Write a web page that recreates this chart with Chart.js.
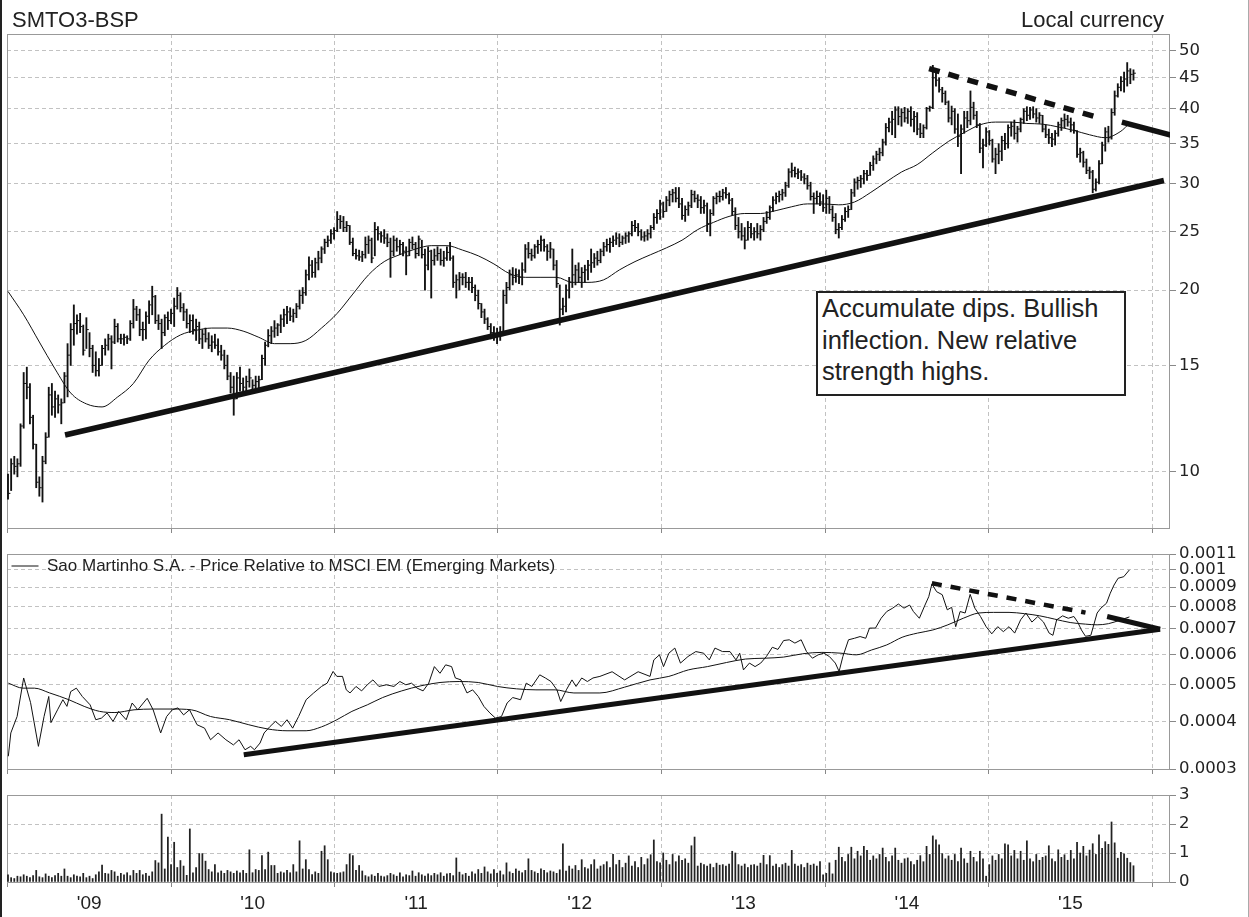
<!DOCTYPE html>
<html>
<head>
<meta charset="utf-8">
<script src="https://cdn.jsdelivr.net/npm/chart.js@4.4.1/dist/chart.umd.min.js"></script>
<style>
  body { margin: 0; background: #fff; }
  #page { position: relative; width: 1249px; height: 917px; overflow: hidden; background: #fff;
          font-family: "Liberation Sans", Arial, sans-serif; color: #222; }
  .pane { position: absolute; left: 0; }
  #edgeL { position: absolute; left: 0; top: 0; width: 2px; height: 917px; background: #222; }
  #edgeR { position: absolute; right: 0; top: 0; width: 1px; height: 917px; background: #aaa; }
  #ttl { position: absolute; left: 12px; top: 9px; font-size: 22px; line-height: 22px; }
  #cur { position: absolute; right: 85px; top: 9px; font-size: 22px; line-height: 22px; }
  #note { position: absolute; left: 816px; top: 291px; width: 302px; height: 101px; padding-left: 4px;
          border: 2px solid #222; background: #fff; font-size: 25.5px; line-height: 31.7px; }
</style>
</head>
<body>
<div id="page">
  <canvas id="cPrice" class="pane" style="top:0" width="1249" height="545"></canvas>
  <canvas id="cRel" class="pane" style="top:545px" width="1249" height="235"></canvas>
  <canvas id="cVol" class="pane" style="top:780px" width="1249" height="137"></canvas>
  <div id="ttl">SMTO3-BSP</div>
  <div id="cur">Local currency</div>
  <div id="note">Accumulate dips. Bullish<br>inflection. New relative<br>strength highs.</div>
  <div id="edgeL"></div>
  <div id="edgeR"></div>
</div>
<script>
// weekly bars, first week ending 2009-01-02
const firstWeek = Date.UTC(2009, 0, 2);
const years = [2009, 2010, 2011, 2012, 2013, 2014, 2015, 2016];
const yearLabels = ["'09", "'10", "'11", "'12", "'13", "'14", "'15", ""];

const highs = [
  9.9,10.5,10.6,10.5,12.0,14.6,14.9,14.0,12.4,11.1,
  9.8,10.6,11.6,13.8,14.0,13.6,13.4,13.2,14.6,16.3,
  17.6,18.9,18.2,18.3,17.5,18.0,17.0,16.2,15.8,15.4,
  16.2,16.6,16.9,16.8,17.9,17.6,16.9,16.9,16.8,17.8,
  19.3,18.8,18.6,17.7,18.4,19.2,20.3,19.6,18.2,17.9,
  18.2,18.4,18.6,19.4,20.2,19.8,19.0,18.6,18.2,18.2,
  17.9,17.7,17.2,17.3,17.0,16.8,16.9,16.6,16.2,15.9,
  15.6,14.6,14.4,14.6,14.9,14.3,14.4,14.8,14.2,14.4,
  14.4,15.6,16.4,17.2,17.4,17.8,17.6,18.2,18.6,18.8,
  18.7,18.6,19.0,20.0,20.2,21.6,22.7,22.4,22.6,23.2,
  23.6,24.3,24.6,25.2,25.4,27.0,26.6,26.5,26.0,25.6,
  24.4,23.4,23.3,23.2,24.5,24.6,24.4,25.9,25.5,25.0,
  25.2,24.8,24.4,24.6,24.4,24.2,24.0,23.6,24.3,24.5,
  24.0,24.6,24.2,23.4,23.6,23.3,23.4,23.6,23.4,23.2,
  23.6,24.0,22.8,21.2,21.4,21.3,21.4,21.0,21.0,20.4,
  20.0,19.0,18.6,18.0,17.6,17.4,17.3,17.4,20.0,20.6,
  21.6,21.8,21.7,21.6,22.2,23.8,24.0,23.4,23.8,24.2,
  24.6,24.3,23.8,24.0,23.4,22.4,20.4,19.4,20.4,21.0,
  23.4,22.0,22.2,21.8,22.0,22.4,23.4,23.0,23.2,23.4,
  24.0,24.3,24.4,24.6,24.9,24.8,24.6,24.9,25.0,26.0,
  26.1,25.8,25.2,25.0,25.2,25.6,26.8,27.2,28.2,28.0,
  28.6,29.2,29.4,29.6,29.6,28.4,27.6,28.0,29.3,29.2,
  28.8,28.6,28.2,27.9,27.2,28.6,29.0,29.2,29.4,29.6,
  29.0,28.4,27.4,26.4,25.8,25.4,26.0,25.8,25.4,25.8,
  25.6,26.4,27.0,27.6,28.6,29.0,29.2,29.4,30.2,31.8,
  32.5,32.0,31.8,31.6,31.2,31.0,30.2,29.0,29.2,29.0,
  28.8,29.3,28.6,27.6,26.8,25.8,26.6,27.4,27.6,29.4,
  30.6,30.8,31.0,31.6,31.6,32.6,33.4,34.0,34.4,35.6,
  37.8,38.6,39.6,40.3,40.3,40.0,40.2,40.0,40.3,39.6,
  39.4,37.8,37.6,40.2,40.4,47.2,46.4,45.0,43.4,42.8,
  41.2,40.4,40.0,39.2,37.6,39.6,39.6,42.8,41.0,39.6,
  37.8,35.6,37.2,36.8,35.6,34.4,35.0,36.0,36.4,37.6,
  38.0,38.3,37.4,38.6,40.0,40.3,40.2,40.3,40.0,39.4,
  39.0,37.6,37.0,36.4,36.8,38.0,38.6,39.2,39.0,38.6,
  38.0,36.8,34.4,34.0,33.0,32.0,31.6,30.6,32.8,35.2,
  37.2,37.4,40.0,42.8,44.0,45.2,46.0,47.7,46.6,46.4
];
const lows = [
  9.0,9.3,9.9,9.8,10.2,11.8,13.2,12.0,10.9,9.4,
  9.1,8.9,10.3,11.4,12.4,12.3,12.5,12.0,13.0,13.3,
  15.0,16.2,16.9,17.0,15.6,16.0,15.5,14.6,14.4,14.4,
  15.0,15.6,15.9,14.8,16.3,16.4,16.3,16.2,16.3,16.5,
  17.3,17.8,16.8,16.5,16.6,17.6,18.2,17.6,17.2,16.0,
  16.8,17.2,17.6,17.4,18.6,18.4,17.8,17.3,17.0,16.9,
  16.5,16.3,16.0,16.4,16.0,15.8,16.0,15.6,15.3,14.8,
  14.2,13.5,12.4,13.2,13.6,13.5,13.6,13.8,13.6,13.6,
  13.7,14.2,15.0,16.1,16.3,16.7,16.8,17.0,17.4,17.6,
  17.8,17.7,18.0,18.6,19.0,19.6,20.8,21.0,21.0,21.6,
  22.2,23.0,23.6,23.9,24.3,25.0,25.3,25.0,25.0,23.8,
  22.8,22.5,22.4,22.3,22.6,23.0,22.2,22.8,24.2,24.0,
  23.9,23.6,21.0,22.8,23.2,22.9,22.8,21.2,22.8,23.4,
  22.6,22.8,22.6,20.0,21.6,19.4,22.0,22.4,22.0,21.9,
  22.4,22.4,20.2,19.4,20.0,20.4,20.2,20.0,19.8,19.2,
  18.6,18.0,17.6,17.2,16.6,16.5,16.3,16.5,16.8,19.0,
  20.0,20.4,20.6,20.5,20.4,21.4,22.6,22.4,22.6,23.0,
  23.2,23.2,22.4,22.6,21.6,20.2,17.5,18.2,18.4,19.4,
  20.2,20.4,20.6,20.2,20.6,20.8,21.4,21.8,22.0,22.2,
  22.8,23.2,23.1,23.6,23.8,23.6,23.8,23.9,24.0,24.6,
  25.0,24.6,24.2,24.1,24.2,24.4,25.2,25.8,26.2,26.4,
  27.0,27.6,28.0,28.0,27.4,26.2,26.0,26.6,27.4,28.0,
  27.4,26.8,26.8,25.0,24.6,26.6,27.8,28.0,28.2,28.4,
  27.8,26.6,25.2,24.4,24.2,23.4,24.2,24.4,24.2,24.4,
  24.2,25.0,25.8,26.2,27.0,27.8,28.0,28.2,28.6,29.6,
  30.8,30.8,30.6,30.4,30.0,29.4,28.2,26.8,27.8,27.6,
  27.0,26.8,26.8,26.0,24.8,24.4,25.2,26.0,26.4,27.2,
  28.6,29.4,29.6,30.0,30.4,31.0,31.6,32.4,32.8,33.4,
  34.8,36.6,36.2,35.8,37.6,37.4,38.0,37.8,37.4,36.6,
  36.2,35.8,35.8,37.0,39.6,40.0,43.6,42.6,41.0,40.6,
  38.0,37.6,36.4,34.6,31.2,36.4,37.2,37.6,38.4,37.2,
  33.8,31.9,34.6,34.8,32.6,31.2,32.4,32.8,34.2,34.4,
  36.0,35.6,35.2,36.6,37.8,38.2,38.4,38.6,38.0,37.8,
  36.6,35.8,35.0,34.6,34.8,36.0,36.8,37.2,37.4,36.6,
  36.4,33.2,32.6,32.0,31.2,30.6,29.0,29.2,30.0,32.4,
  34.0,35.2,35.6,39.0,41.8,42.8,42.6,43.6,44.0,44.6
];
const closes = [
  9.2,10.3,10.2,10.3,11.9,14.0,13.8,12.3,11.1,9.6,
  9.4,10.4,11.4,13.4,12.8,13.2,12.9,13.0,14.4,15.6,
  17.2,17.6,17.8,17.4,15.9,17.2,16.0,15.0,14.7,15.0,
  16.0,16.2,16.6,16.4,17.4,16.6,16.6,16.7,16.6,17.6,
  18.6,18.2,17.2,17.2,18.1,18.9,19.5,17.8,17.6,17.0,
  18.0,17.8,18.3,18.8,19.6,18.7,18.4,17.6,17.8,17.2,
  17.4,16.6,16.9,16.6,16.2,16.4,16.2,15.8,15.6,15.0,
  14.4,13.8,13.2,14.3,14.0,13.8,14.1,14.3,13.9,14.1,
  14.2,15.4,16.2,16.8,17.1,17.3,17.5,17.9,18.2,18.4,
  18.1,18.3,18.8,19.6,19.8,21.2,22.0,21.4,22.2,22.6,
  23.4,24.0,24.2,24.8,25.1,26.2,26.0,25.4,25.6,24.0,
  23.0,22.8,22.7,22.9,23.8,24.2,22.6,25.2,24.8,24.6,
  24.4,24.0,23.2,24.2,23.6,23.8,23.2,22.8,24.0,23.8,
  23.0,24.3,22.9,22.0,23.2,22.4,22.8,23.0,22.4,22.6,
  23.1,22.6,20.6,20.8,21.0,21.0,20.6,20.6,20.2,19.6,
  19.0,18.4,17.9,17.4,17.0,16.9,17.0,16.8,19.6,20.2,
  21.2,21.0,21.2,21.0,21.6,23.4,23.0,22.8,23.6,23.8,
  24.2,23.6,23.2,23.4,22.0,20.5,18.6,18.8,20.0,20.6,
  21.2,21.6,21.0,21.4,21.6,22.0,22.2,22.6,22.4,23.2,
  23.6,23.8,24.0,24.2,24.4,24.0,24.4,24.6,24.8,25.6,
  25.4,25.0,24.5,24.6,24.8,25.4,26.4,26.8,27.8,27.0,
  28.2,28.8,29.0,28.4,27.8,26.6,27.2,27.6,28.8,28.4,
  28.2,27.4,27.6,25.8,26.8,28.4,28.6,28.6,29.0,28.8,
  28.2,27.0,25.6,25.0,24.6,24.2,25.4,24.8,25.0,24.8,
  25.2,26.0,26.4,27.4,28.2,28.6,28.8,29.0,29.8,31.4,
  31.6,31.2,31.4,30.8,30.6,29.8,28.6,28.4,28.6,28.0,
  27.4,28.4,27.2,26.4,25.2,25.4,26.2,27.0,27.2,29.0,
  30.2,30.4,30.6,31.2,31.0,32.2,33.0,33.6,33.8,35.2,
  37.2,38.0,38.4,39.8,38.8,39.4,38.6,39.6,38.4,38.8,
  37.0,36.4,37.2,40.0,40.2,45.0,44.6,43.0,42.4,41.0,
  38.6,39.6,37.0,36.0,37.0,38.6,38.2,40.2,39.0,37.6,
  34.4,34.8,36.6,35.4,33.0,33.6,34.0,35.4,35.0,37.2,
  37.4,36.4,37.0,38.4,39.6,39.0,39.8,39.2,38.6,39.0,
  37.0,36.2,35.8,35.6,36.4,37.6,38.2,38.4,38.0,37.6,
  36.8,33.6,33.8,32.6,31.6,31.4,29.4,30.2,32.4,34.8,
  36.6,35.8,39.4,42.0,43.4,44.4,44.8,46.2,45.6,45.8
];

// moving average of the price, read every 5 weeks
const maWeeks = [0,5,10,15,20,25,30,35,40,45,50,55,60,65,70,75,80,85,90,95,
  100,105,110,115,120,125,130,135,140,145,150,155,160,165,170,175,180,185,190,195,
  200,205,210,215,220,225,230,235,240,245,250,255,260,265,270,275,280,285,290,295,
  300,305,310,315,320,325,330,335,340,345,350,355,357];
const maPrices = [19.9,18.2,16.4,14.8,13.5,12.95,12.8,13.3,14.0,15.3,16.2,16.85,17.15,17.3,17.3,17.1,16.7,16.3,16.3,16.5,
  17.3,18.3,19.7,21.2,22.3,22.9,23.4,23.7,23.7,23.3,22.8,22.1,21.3,21.0,21.0,21.0,20.6,20.6,20.8,21.6,
  22.3,22.9,23.5,24.2,25.2,25.9,26.5,26.8,26.8,27.1,27.5,27.8,27.8,27.7,28.0,29.0,30.2,31.4,32.3,33.8,
  35.3,36.5,37.6,38.0,38.0,37.8,37.7,37.3,36.8,36.2,35.8,36.7,37.5];

// price trend lines (week, price)
const supWeeks = [18.2, 368.7], supPrices = [11.5, 30.4];
const resWeeks = [293.8, 347.4], resPrices = [46.6, 38.7];
const brkWeeks = [355.3, 371.3], brkPrices = [38.0, 36.1];

// price relative to MSCI EM
const relWeeks = [0.1,0.9,2.9,5.0,7.2,9.7,11.5,13.0,13.7,15.8,17.5,18.8,20.0,21.8,23.7,26.2,28.0,29.8,31.6,33.5,
  35.3,37.7,39.6,41.4,44.4,46.3,48.7,50.6,52.4,54.2,56.0,57.9,60.3,62.7,64.6,67.0,69.5,71.9,73.7,75.6,
  77.4,78.6,80.4,81.7,83.6,85.3,87.2,89.0,90.8,92.7,95.1,97.5,100.0,101.8,103.7,104.9,106.7,107.9,109.1,111.0,
  112.8,114.6,116.4,118.3,120.7,123.1,125.0,126.9,128.7,130.5,132.4,134.2,136.0,137.8,139.6,141.5,142.7,144.5,146.4,148.2,
  150.0,151.8,153.7,155.5,157.4,159.2,161.0,163.5,165.3,167.1,169.6,171.4,173.2,175.1,176.3,178.1,179.9,181.2,183.0,184.8,
  186.6,188.8,192.7,196.7,201.0,204.8,206.0,207.8,209.1,210.8,212.7,214.5,216.9,219.4,221.9,223.7,225.5,227.9,230.3,232.2,
  233.4,234.6,236.5,238.3,240.1,241.9,243.8,245.6,247.4,249.2,251.0,253.0,254.7,256.6,258.4,260.2,262.0,263.9,265.1,266.3,
  268.1,270.0,271.8,273.6,274.8,276.7,278.5,280.3,282.2,284.0,285.8,287.6,288.8,290.7,292.5,293.7,294.7,296.2,298.0,299.6,
  301.0,302.3,303.7,305.3,306.9,308.4,310.2,312.0,313.8,315.7,317.5,319.3,321.1,323.0,324.7,326.6,328.5,330.3,332.1,333.3,
  334.5,336.4,338.2,340.0,341.2,342.4,343.7,345.4,347.4,348.6,350.4,351.6,352.8,354.1,355.9,357.7];
const relValues = [.000324,.000373,.000412,.000520,.000448,.000344,.000412,.000465,.000397,.000429,.000456,.000438,.000479,.000489,.000465,.000442,.000404,.000408,.000421,.000400,
  .000425,.000404,.000447,.000429,.000460,.000429,.000373,.000412,.000429,.000434,.000416,.000429,.000392,.000384,.000358,.000373,.000358,.000347,.000358,.000337,
  .000344,.000337,.000351,.000373,.000388,.000400,.000388,.000404,.000384,.000412,.000456,.000475,.000494,.000504,.000541,.000525,.000525,.000484,.000475,.000494,
  .000481,.000499,.000514,.000494,.000499,.000494,.000509,.000499,.000504,.000489,.000481,.000504,.000557,.000535,.000563,.000557,.000520,.000514,.000475,.000484,
  .000465,.000438,.000421,.000408,.000412,.000447,.000462,.000456,.000504,.000494,.000530,.000520,.000509,.000484,.000451,.000484,.000514,.000494,.000520,.000509,
  .000520,.000525,.000540,.000514,.000540,.000525,.000580,.000598,.000557,.000604,.000623,.000569,.000592,.000610,.000604,.000580,.000623,.000610,.000610,.000580,
  .000604,.000546,.000569,.000557,.000569,.000592,.000626,.000618,.000652,.000655,.000642,.000655,.000610,.000586,.000598,.000604,.000592,.000569,.000541,.000592,
  .000655,.000661,.000668,.000661,.000703,.000703,.000746,.000777,.000793,.000813,.000793,.000808,.000777,.000746,.000808,.000850,.000918,.000876,.000860,.000785,
  .000797,.000709,.000777,.000770,.000862,.000793,.000754,.000709,.000679,.000709,.000688,.000709,.000682,.000739,.000770,.000729,.000754,.000729,.000682,.000673,
  .000739,.000757,.000746,.000754,.000729,.000695,.000669,.000673,.000770,.000793,.000817,.000868,.000912,.000950,.000959,.000999];
const relMaWeeks = [0.1,4.8,8.4,13.3,19.4,24.3,29.2,34.1,40.2,46.3,52.4,58.5,64.6,70.7,76.8,82.9,89.0,95.1,100.0,104.9,
  109.7,114.6,119.5,125.6,131.7,137.8,143.9,150.0,156.1,162.2,168.4,174.5,180.5,188.8,196.7,204.8,210.8,217.0,223.1,229.2,
  235.2,241.3,247.4,253.5,259.6,265.7,270.6,275.5,280.3,285.2,290.1,295.0,299.8,304.7,309.6,314.4,319.3,324.2,329.1,333.9,
  338.8,343.7,347.4,351.0,354.6,357.7];
const relMaValues = [.000504,.000489,.000489,.000475,.000456,.000438,.000425,.000422,.000429,.000431,.000431,.000429,.000412,.000404,.000392,.000382,.000378,.000378,.000387,.000404,
  .000425,.000442,.000462,.000481,.000496,.000506,.000509,.000506,.000494,.000487,.000484,.000484,.000475,.000475,.000492,.000514,.000525,.000546,.000557,.000571,
  .000583,.000586,.000590,.000602,.000607,.000604,.000598,.000616,.000635,.000665,.000682,.000695,.000717,.000746,.000770,.000773,.000773,.000767,.000757,.000742,
  .000727,.000720,.000717,.000722,.000737,.000752];
const relSupWeeks = [75.2, 367.5], relSupValues = [0.000327, 0.000698];
const relResWeeks = [294.7, 343.7], relResValues = [0.000922, 0.000772];
const relBrkWeeks = [350.6, 367.5], relBrkValues = [0.000754, 0.000698];

// weekly volume (millions)
const volumes = [
  0.25,0.15,0.12,0.2,0.18,0.25,0.2,0.15,0.22,0.4,0.18,0.15,0.28,0.2,0.15,0.22,0.3,0.2,0.45,0.2,
  0.15,0.25,0.2,0.18,0.3,0.15,0.2,0.12,0.25,0.35,0.58,0.3,0.28,0.4,0.35,0.2,0.3,0.25,0.32,0.22,
  0.4,0.3,0.4,0.25,0.3,0.2,0.35,0.74,0.66,2.34,0.45,1.55,0.6,1.37,0.5,0.74,0.55,0.23,1.83,0.32,
  0.5,0.98,0.98,0.72,0.43,0.35,0.6,0.32,0.38,0.3,0.4,0.35,0.3,0.38,0.32,0.4,0.3,1.11,0.32,0.43,
  0.4,0.91,0.43,1.03,0.57,0.57,0.3,0.35,0.32,0.4,0.32,0.6,0.35,1.42,0.45,0.77,0.43,0.26,0.35,0.3,
  1.06,1.25,0.77,0.35,0.32,0.3,0.32,0.35,0.6,0.97,0.91,0.4,0.57,0.38,0.22,0.18,0.25,0.2,0.3,0.2,
  0.18,0.22,0.3,0.25,0.2,0.32,0.18,0.25,0.22,0.38,0.2,0.32,0.25,0.2,0.28,0.22,0.3,0.25,0.32,0.2,
  0.28,0.3,0.22,0.83,0.34,0.25,0.3,0.2,0.35,0.28,0.43,0.3,0.52,0.35,0.28,0.43,0.3,0.38,0.25,0.66,
  0.35,0.3,0.45,0.38,0.32,0.4,0.8,0.4,0.35,0.3,0.45,0.4,0.32,0.38,0.35,0.3,0.42,1.32,0.38,0.55,
  0.45,0.57,0.4,0.77,0.5,0.45,0.6,0.77,0.45,0.55,0.6,0.7,0.5,0.95,0.6,0.75,0.5,0.65,0.9,0.55,
  0.7,0.5,0.85,0.6,0.8,0.94,1.45,0.7,0.66,1.0,0.75,0.6,0.95,0.7,0.9,0.75,0.8,0.65,1.25,1.55,
  0.55,0.65,0.6,0.55,0.62,0.5,0.65,0.58,0.6,0.55,0.62,1.06,1.0,0.6,0.55,0.62,0.5,0.58,0.6,0.55,
  0.65,0.92,0.6,0.91,0.55,0.62,0.5,0.6,0.65,0.55,1.09,0.62,0.55,0.6,0.5,0.65,0.58,0.62,0.55,0.7,
  0.25,0.3,0.66,0.28,0.75,1.2,0.85,0.7,0.95,1.2,0.8,1.06,0.9,1.23,1.09,0.75,0.9,0.8,0.95,1.17,
  0.85,0.7,0.9,1.17,0.75,0.65,0.8,0.83,0.7,0.6,0.75,0.91,0.7,1.23,0.95,1.59,1.45,1.28,0.98,0.8,
  0.9,0.75,0.95,0.7,1.17,0.8,0.65,1.06,0.85,0.7,1.06,0.8,0.2,0.6,0.9,0.75,0.95,0.8,1.32,1.28,
  0.9,1.09,0.8,1.06,0.75,1.42,0.8,0.7,0.95,0.75,0.85,0.9,1.25,0.8,0.7,1.11,0.85,0.94,0.75,1.09,
  0.8,1.37,1.0,1.23,0.9,1.1,1.32,0.95,1.63,1.16,1.39,1.3,2.07,1.35,0.82,1.02,0.97,0.82,0.67,0.56
];

const priceTicks = [10, 15, 20, 25, 30, 35, 40, 45, 50];
const relTicks = [0.0003, 0.0004, 0.0005, 0.0006, 0.0007, 0.0008, 0.0009, 0.001, 0.0011];
const volTicks = [0, 1, 2, 3];

// ---------------------------------------------------------------
const yearWeeks = years.map(y => (Date.UTC(y, 0, 1) - firstWeek) / (7 * 864e5));
const INK = '#111';
const GRID = '#c2c2c2';
const xMin = -0.32, xMax = 370.65;

const pts = (xs, ys) => xs.map((x, i) => ({x: x, y: ys[i]}));

function xAxis(withLabels) {
  return {
    type: 'linear', min: xMin, max: xMax, offset: false,
    afterBuildTicks: s => { s.ticks = yearWeeks.map(v => ({value: v})); },
    afterFit: s => { s.height = withLabels ? 35 : 6; s.paddingLeft = 0; s.paddingRight = 0; },
    grid: { offset: false, color: GRID, lineWidth: 1, drawTicks: true, tickLength: 5, tickColor: '#888', tickBorderDash: [], tickWidth: 1 },
    border: { display: false, dash: [4, 3] },
    ticks: {
      display: withLabels, autoSkip: false, maxRotation: 0, labelOffset: 81.6, padding: 5,
      color: '#222', font: { family: 'Liberation Sans', size: 19 },
      callback: (v, i) => yearLabels[i]
    }
  };
}

function yAxis(type, min, max, tickVals) {
  return {
    type: type, position: 'right', min: min, max: max,
    afterBuildTicks: s => { s.ticks = tickVals.map(v => ({value: v})); },
    afterFit: s => { s.width = 72; s.paddingTop = 0; s.paddingBottom = 0; },
    grid: { color: GRID, lineWidth: 1, drawTicks: true, tickLength: 6, tickColor: '#888', tickBorderDash: [], tickWidth: 1 },
    border: { display: false, dash: [4, 3] },
    ticks: {
      autoSkip: false, padding: 3, color: '#222',
      font: { family: 'DejaVu Sans', size: 16.5 },
      callback: v => String(v)
    }
  };
}

const framePlugin = {
  id: 'frame',
  beforeDatasetsDraw(chart) {
    const a = chart.chartArea, ctx = chart.ctx;
    ctx.save();
    ctx.strokeStyle = '#999';
    ctx.lineWidth = 1;
    ctx.strokeRect(Math.round(a.left) + 0.5, Math.round(a.top) + 0.5,
                   Math.round(a.right - a.left) - 1, Math.round(a.bottom - a.top));
    ctx.restore();
  }
};

const lineDs = (data, width, dash) => ({
  type: 'line', data: data, borderColor: INK, borderWidth: width, borderDash: dash || [],
  borderCapStyle: 'butt', pointRadius: 0, fill: false
});

const common = {
  responsive: false, animation: false, events: [],
  plugins: { legend: { display: false }, tooltip: { enabled: false } }
};

Chart.defaults.font.family = 'Liberation Sans';

// price panel
new Chart(document.getElementById('cPrice'), {
  type: 'bar',
  data: {
    datasets: [
      lineDs(pts(supWeeks, supPrices), 5.5),
      lineDs(pts(resWeeks, resPrices), 5.5, [11, 9]),
      lineDs(pts(brkWeeks, brkPrices), 5.5),
      Object.assign(lineDs(pts(maWeeks, maPrices), 1), { cubicInterpolationMode: 'monotone' }),
      { type: 'scatter', data: closes.map((c, i) => ({x: i, y: c})),
        pointStyle: 'dash', pointRadius: 2.4, pointBorderWidth: 1, pointBorderColor: INK, pointBackgroundColor: INK },
      { type: 'bar', data: highs.map((h, i) => ({x: i, y: [lows[i], h]})),
        backgroundColor: INK, barThickness: 1.2, borderWidth: 0 }
    ]
  },
  options: Object.assign({}, common, {
    layout: { padding: { left: 7, right: 7, top: 34, bottom: 11 } },
    scales: { x: xAxis(false), y: yAxis('logarithmic', 8.06, 53.2, priceTicks) }
  }),
  plugins: [framePlugin]
});

// relative strength panel
new Chart(document.getElementById('cRel'), {
  type: 'line',
  data: {
    datasets: [
      Object.assign(lineDs(pts(relWeeks, relValues), 1),
        { label: 'Sao Martinho S.A. - Price Relative to MSCI EM (Emerging Markets)' }),
      Object.assign(lineDs(pts(relMaWeeks, relMaValues), 1), { label: 'ma', cubicInterpolationMode: 'monotone' }),
      Object.assign(lineDs(pts(relSupWeeks, relSupValues), 5), { label: 's' }),
      Object.assign(lineDs(pts(relResWeeks, relResValues), 4.5, [10, 9]), { label: 'r' }),
      Object.assign(lineDs(pts(relBrkWeeks, relBrkValues), 5), { label: 'b' })
    ]
  },
  options: Object.assign({}, common, {
    layout: { padding: { left: 7, right: 7, top: 9, bottom: 5 } },
    plugins: {
      tooltip: { enabled: false },
      legend: {
        display: true, position: 'chartArea', align: 'start',
        title: { display: true, text: '', font: { size: 5 }, padding: { top: 1, bottom: 1 } },
        labels: {
          filter: item => item.datasetIndex === 0,
          usePointStyle: true, pointStyle: 'line', pointStyleWidth: 27, boxHeight: 17,
          padding: 4.5, color: '#222', font: { family: 'Liberation Sans', size: 17 }
        }
      }
    },
    scales: { x: xAxis(false), y: yAxis('logarithmic', 0.0003, 0.0011, relTicks) }
  }),
  plugins: [framePlugin]
});

// volume panel
new Chart(document.getElementById('cVol'), {
  type: 'bar',
  data: {
    datasets: [
      { data: volumes.map((v, i) => ({x: i, y: v})), backgroundColor: '#222', barThickness: 1.1, borderWidth: 0 }
    ]
  },
  options: Object.assign({}, common, {
    layout: { padding: { left: 7, right: 7, top: 15, bottom: 0 } },
    scales: { x: xAxis(true), y: yAxis('linear', 0, 3, volTicks) }
  }),
  plugins: [framePlugin]
});
</script>
</body>
</html>
